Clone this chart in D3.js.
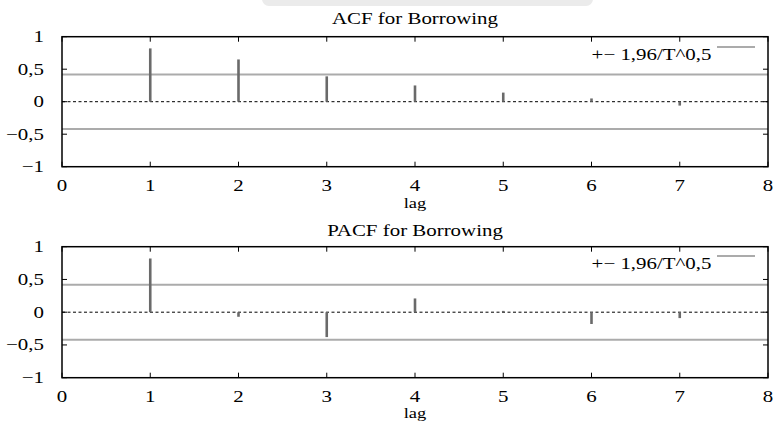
<!DOCTYPE html>
<html>
<head>
<meta charset="utf-8">
<script src="https://cdn.jsdelivr.net/npm/d3@7"></script>
<style>
  html, body { margin: 0; padding: 0; background: #fff; }
  svg { display: block; }
</style>
</head>
<body>
<svg id="chart" width="773" height="422"></svg>
<script>
// Correlogram data for the Borrowing series
const lags = [1, 2, 3, 4, 5, 6, 7];
const acfValues = [0.82, 0.65, 0.39, 0.25, 0.14, 0.05, -0.06];
const pacfValues = [0.82, -0.07, -0.38, 0.21, 0.02, -0.18, -0.09];
const confBand = 0.42; // +- 1.96 / sqrt(T)
const xTickValues = [0, 1, 2, 3, 4, 5, 6, 7, 8];
const yTickValues = [-1, -0.5, 0, 0.5, 1];
const panelTitles = ["ACF for Borrowing", "PACF for Borrowing"];
const legendLabel = "+\u2212 1,96/T^0,5";
const xAxisLabel = "lag";

const svg = d3.select("#chart");
const FONT = 17;
const SX = 1.23; // horizontal stretch of the glyphs
const FAMILY = "'Liberation Serif', 'Times New Roman', Times, 'DejaVu Serif', serif";

// Decorative shaded tab along the top edge
svg.append("rect")
  .attr("x", 262).attr("y", -10).attr("width", 331).attr("height", 16)
  .attr("rx", 7).attr("fill", "#ebebeb");

function label(g, x, y, str, anchor, size) {
  return g.append("text")
    .attr("transform", `translate(${x},${y}) scale(${SX},1)`)
    .attr("text-anchor", anchor || "middle")
    .attr("font-family", FAMILY)
    .attr("font-size", size || FONT)
    .attr("fill", "#000")
    .text(str);
}

function fmtY(v) {
  if (v === 0) return "0";
  const s = String(Math.abs(v)).replace(".", ",");
  return (v < 0 ? "\u2212" : "") + s;
}

const x = d3.scaleLinear().domain([0, 8]).range([62, 768]);

function panel(values, title, top, bottom, titleY, lagY, legendY) {
  const y = d3.scaleLinear().domain([-1, 1]).range([bottom, top]);
  const g = svg.append("g");

  // confidence band lines
  [confBand, -confBand].forEach(c => {
    g.append("line")
      .attr("x1", x(0)).attr("x2", x(8))
      .attr("y1", y(c)).attr("y2", y(c))
      .attr("stroke", "#ababab").attr("stroke-width", 2);
  });

  // zero line
  g.append("line")
    .attr("x1", x(0)).attr("x2", x(8))
    .attr("y1", y(0)).attr("y2", y(0))
    .attr("stroke", "#000").attr("stroke-width", 1)
    .attr("stroke-dasharray", "3,2.5");

  // correlation stems
  g.selectAll("line.stem").data(lags).enter().append("line")
    .attr("class", "stem")
    .attr("x1", d => x(d)).attr("x2", d => x(d))
    .attr("y1", y(0)).attr("y2", (d, i) => y(values[i]))
    .attr("stroke", "#6a6a6a").attr("stroke-width", 2.6);

  // ticks (inward, on all four sides)
  const tl = 5;
  xTickValues.forEach(v => {
    g.append("line").attr("x1", x(v)).attr("x2", x(v))
      .attr("y1", bottom).attr("y2", bottom - tl)
      .attr("stroke", "#000").attr("stroke-width", 1);
    g.append("line").attr("x1", x(v)).attr("x2", x(v))
      .attr("y1", top).attr("y2", top + tl)
      .attr("stroke", "#000").attr("stroke-width", 1);
    label(g, x(v), bottom + 24.5, String(v), "middle");
  });
  yTickValues.forEach(v => {
    g.append("line").attr("x1", x(0)).attr("x2", x(0) + tl)
      .attr("y1", y(v)).attr("y2", y(v))
      .attr("stroke", "#000").attr("stroke-width", 1);
    g.append("line").attr("x1", x(8)).attr("x2", x(8) - tl)
      .attr("y1", y(v)).attr("y2", y(v))
      .attr("stroke", "#000").attr("stroke-width", 1);
    label(g, 44, y(v) + 5.5, fmtY(v), "end");
  });

  // frame
  g.append("rect")
    .attr("x", x(0)).attr("y", top)
    .attr("width", x(8) - x(0)).attr("height", bottom - top)
    .attr("fill", "none").attr("stroke", "#000").attr("stroke-width", 1.5);

  // title, axis label, legend
  label(g, (x(0) + x(8)) / 2, titleY, title, "middle");
  label(g, x(4), lagY, xAxisLabel, "middle", 15);
  label(g, 711.5, legendY, legendLabel, "end");
  g.append("line")
    .attr("x1", 717).attr("x2", 755)
    .attr("y1", legendY - 13).attr("y2", legendY - 13)
    .attr("stroke", "#ababab").attr("stroke-width", 2);
}

panel(acfValues, panelTitles[0], 36.7, 166.7, 24, 207.5, 60);
panel(pacfValues, panelTitles[1], 246.7, 377.7, 236, 417.5, 269);
</script>
</body>
</html>
